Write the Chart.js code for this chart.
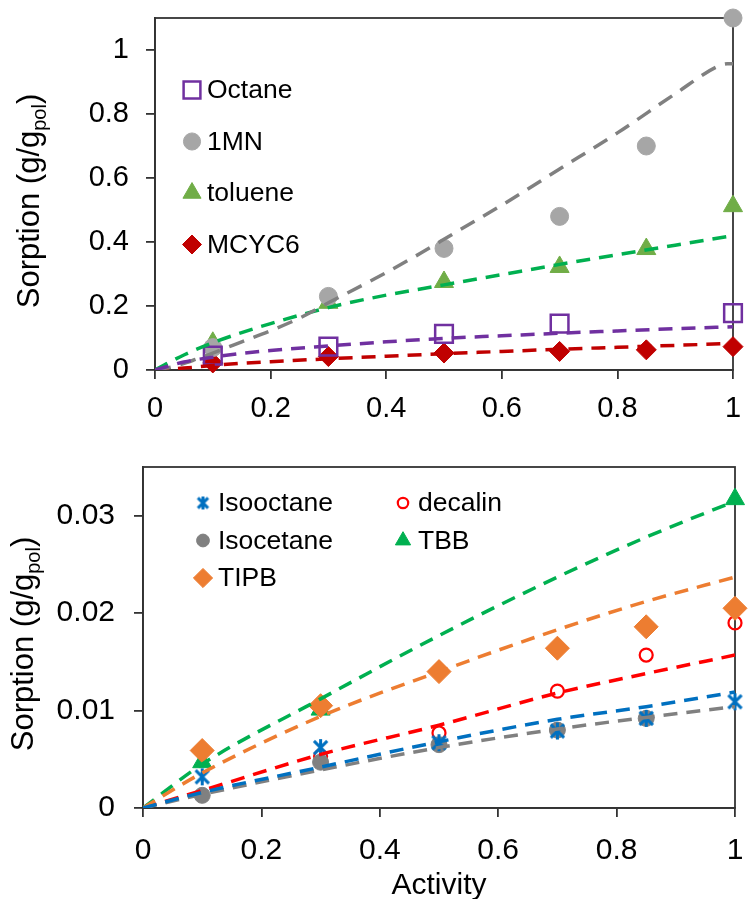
<!DOCTYPE html>
<html>
<head>
<meta charset="utf-8">
<script src="https://cdn.jsdelivr.net/npm/chart.js@4.4.1/dist/chart.umd.min.js"></script>
<style>
  html, body { margin: 0; padding: 0; background: #fff; }
  #wrap { position: relative; width: 748px; height: 899px; overflow: hidden; }
  canvas { position: absolute; left: 0; }
  #topChart { top: 0; }
  #bottomChart { top: 430px; }
</style>
</head>
<body>
<div id="wrap">
  <canvas id="topChart" width="748" height="430"></canvas>
  <canvas id="bottomChart" width="748" height="469"></canvas>
</div>
<script>
// ---- measured data (top panel) ----
const activity = [0.1, 0.3, 0.5, 0.7, 0.85, 1.0];
const octane  = [0.045, 0.073, 0.113, 0.145, null, 0.178];
const mn1     = [0.07, 0.23, 0.38, 0.48, 0.70, 1.10];
const toluene = [0.085, 0.21, 0.275, 0.322, 0.378, 0.512];
const mcyc6   = [0.022, 0.042, 0.053, 0.058, 0.063, 0.073];

// model curves (top panel)
const fitActTop  = [0, 0.05, 0.1, 0.15, 0.2, 0.3, 0.4, 0.5, 0.6, 0.7, 0.8, 0.9, 1.0];
const octaneFit  = [0, 0.025, 0.04, 0.052, 0.061, 0.075, 0.088, 0.099, 0.107, 0.115, 0.122, 0.129, 0.135];
const tolueneFit = [0, 0.047, 0.085, 0.117, 0.145, 0.195, 0.234, 0.266, 0.298, 0.33, 0.36, 0.39, 0.42];
const mcyc6Fit   = [0, 0.006, 0.014, 0.021, 0.026, 0.035, 0.043, 0.051, 0.058, 0.065, 0.071, 0.077, 0.083];
const fitAct1MN  = [0, 0.03, 0.07, 0.11, 0.15, 0.2, 0.25, 0.3, 0.38, 0.45, 0.52, 0.6, 0.7, 0.8, 0.9, 0.975, 0.99, 1.0];
const mn1Fit     = [0, 0.01, 0.033, 0.06, 0.088, 0.123, 0.162, 0.21, 0.285, 0.355, 0.43, 0.515, 0.628, 0.741, 0.863, 0.95, 0.957, 0.957];

// ---- measured data (bottom panel) ----
const isooctane = [0.0032, 0.0062, 0.0067, 0.0079, 0.0092, 0.0109];
const isocetane = [0.0013, 0.0047, 0.0065, 0.0080, 0.0092, null];
const tipb      = [0.0059, 0.0105, 0.0140, 0.0164, 0.0186, 0.0205];
const decalin   = [null, 0.0053, 0.0077, 0.0120, 0.0157, 0.0190];
const tbb       = [0.0047, 0.0101, null, null, null, 0.0317];

// model curves (bottom panel)
const fitActBottom = [0, 0.1, 0.3, 0.5, 0.7, 0.85, 1.0];
const isooctaneFit = [0, 0.0016, 0.0042, 0.0068, 0.0091, 0.0104, 0.0119];
const isocetaneFit = [0, 0.0014, 0.0039, 0.0062, 0.0081, 0.0093, 0.0104];
const tipbFit      = [0, 0.0036, 0.0094, 0.0140, 0.0183, 0.0212, 0.0237];
const decalinFit   = [0, 0.0018, 0.0055, 0.0085, 0.0118, 0.0138, 0.0157];
const tbbFit       = [0, 0.0045, 0.0112, 0.0177, 0.0237, 0.0278, 0.0315];

// ---- axis ticks ----
const xTicks       = [0, 0.2, 0.4, 0.6, 0.8, 1];
const xTickLabels  = ['0', '0.2', '0.4', '0.6', '0.8', '1'];
const yTicksTop    = [0, 0.2, 0.4, 0.6, 0.8, 1];
const yLabelsTop   = ['0', '0.2', '0.4', '0.6', '0.8', '1'];
const yTicksBottom = [0, 0.01, 0.02, 0.03];
const yLabelsBottom = ['0', '0.01', '0.02', '0.03'];

const FONT = "'Liberation Sans', Arial, sans-serif";
const AXIS = '#333333';

function pts(xs, ys) {
    return xs.map((x, i) => ({ x: x, y: ys[i] })).filter(p => p.y !== null);
}

// Excel-like asterisk marker
function makeAsterisk(color, size, lw) {
    const c = document.createElement('canvas');
    c.width = size;
    c.height = size;
    const g = c.getContext('2d');
    g.strokeStyle = color;
    g.lineWidth = lw;
    const m = size / 2, r = size / 2 - 1, d = r * 0.78;
    g.beginPath();
    g.moveTo(m, m - r); g.lineTo(m, m + r);
    g.moveTo(m - d, m - d); g.lineTo(m + d, m + d);
    g.moveTo(m + d, m - d); g.lineTo(m - d, m + d);
    g.stroke();
    return c;
}

function markerSet(label, xs, ys, style) {
    return Object.assign({
        label: label,
        data: pts(xs, ys),
        showLine: false,
        order: 1,
        clip: false,
        pointBorderWidth: 1
    }, style);
}

function fitSet(xs, ys, color, dash) {
    return {
        label: '',
        data: pts(xs, ys),
        showLine: true,
        order: 0,
        borderColor: color,
        borderWidth: 3.5,
        borderDash: dash || [14, 9],
        pointRadius: 0,
        cubicInterpolationMode: 'monotone',
        fill: false
    };
}

// plot frame (top + right sides)
const framePlugin = {
    id: 'frame',
    beforeDatasetsDraw(chart) {
        const a = chart.chartArea, ctx = chart.ctx;
        ctx.save();
        ctx.strokeStyle = AXIS;
        ctx.lineWidth = 1.8;
        ctx.strokeRect(a.left, a.top, a.right - a.left, a.bottom - a.top);
        ctx.restore();
    }
};

// legend drawn inside the plot area
const markerLegend = {
    id: 'markerLegend',
    afterDraw(chart, args, opts) {
        const ctx = chart.ctx;
        const items = chart.data.datasets.filter(d => d.label);
        ctx.save();
        ctx.font = opts.size + 'px ' + FONT;
        ctx.textBaseline = 'middle';
        items.forEach((d, i) => {
            const col = Math.floor(i / opts.rows), row = i % opts.rows;
            const x = opts.x + col * opts.colGap, y = opts.y + row * opts.rowGap;
            ctx.fillStyle = d.pointBackgroundColor;
            ctx.strokeStyle = d.pointBorderColor;
            ctx.lineWidth = d.pointBorderWidth;
            Chart.helpers.drawPoint(ctx, {
                pointStyle: d.legendPointStyle || d.pointStyle,
                radius: d.pointRadius * opts.markerScale,
                rotation: 0,
                borderWidth: d.pointBorderWidth
            }, x, y);
            ctx.fillStyle = '#000';
            ctx.fillText(d.label, x + opts.textGap, y + 1);
        });
        ctx.restore();
    }
};

// rotated y title with subscript
const yTitlePlugin = {
    id: 'yTitle',
    afterDraw(chart, args, opts) {
        const ctx = chart.ctx;
        const big = opts.size + 'px ' + FONT;
        const small = Math.round(opts.size * 0.66) + 'px ' + FONT;
        ctx.save();
        ctx.translate(opts.x, opts.y);
        ctx.rotate(-Math.PI / 2);
        ctx.fillStyle = '#000';
        ctx.textBaseline = 'alphabetic';
        ctx.font = big;
        const w1 = ctx.measureText(opts.text).width;
        const w3 = ctx.measureText(opts.tail).width;
        ctx.font = small;
        const w2 = ctx.measureText(opts.sub).width;
        let x = -(w1 + w2 + w3) / 2;
        ctx.font = big;
        ctx.fillText(opts.text, x, 0);
        x += w1;
        ctx.font = small;
        ctx.fillText(opts.sub, x, opts.size * 0.22);
        x += w2;
        ctx.font = big;
        ctx.fillText(opts.tail, x, 0);
        ctx.restore();
    }
};

function axes(cfg) {
    return {
        x: {
            type: 'linear',
            min: 0,
            max: 1,
            afterBuildTicks: s => { s.ticks = xTicks.map(v => ({ value: v })); },
            afterFit: s => { s.height = cfg.xHeight; s.paddingLeft = 0; s.paddingRight = 0; },
            grid: { drawOnChartArea: false, drawTicks: true, tickLength: 9, color: AXIS, lineWidth: 1.8 },
            border: { display: true, color: AXIS, width: 1.8 },
            ticks: {
                font: { family: FONT, size: cfg.fontSize },
                color: '#000',
                padding: cfg.xPad,
                maxRotation: 0,
                autoSkip: false,
                callback: (v, i) => xTickLabels[i]
            },
            title: cfg.xTitle ? {
                display: true,
                text: cfg.xTitle,
                color: '#000',
                font: { family: FONT, size: cfg.fontSize, lineHeight: 0.9 },
                padding: { top: 0, bottom: 0 }
            } : { display: false }
        },
        y: {
            type: 'linear',
            min: 0,
            max: cfg.yMax,
            afterBuildTicks: s => { s.ticks = cfg.yTicks.map(v => ({ value: v })); },
            afterFit: s => { s.width = cfg.yWidth; s.paddingTop = 0; s.paddingBottom = 0; },
            grid: { drawOnChartArea: false, drawTicks: true, tickLength: 9, color: AXIS, lineWidth: 1.8 },
            border: { display: true, color: AXIS, width: 1.8 },
            ticks: {
                font: { family: FONT, size: cfg.fontSize },
                color: '#000',
                padding: cfg.yPad,
                callback: (v, i) => cfg.yLabels[i]
            }
        }
    };
}

const baseOptions = {
    responsive: false,
    animation: false,
    events: [],
    plugins: { legend: { display: false }, tooltip: { enabled: false } }
};

// ---------- top chart ----------
new Chart(document.getElementById('topChart'), {
    type: 'scatter',
    data: {
        datasets: [
            markerSet('Octane', activity, octane, {
                pointStyle: 'rect', pointRadius: 12.5,
                pointBackgroundColor: 'rgba(0,0,0,0)', pointBorderColor: '#7030A0', pointBorderWidth: 2.5
            }),
            markerSet('1MN', activity, mn1, {
                pointStyle: 'circle', pointRadius: 9,
                pointBackgroundColor: '#A6A6A6', pointBorderColor: '#A6A6A6'
            }),
            markerSet('toluene', activity, toluene, {
                pointStyle: 'triangle', pointRadius: 11,
                pointBackgroundColor: '#70AD47', pointBorderColor: '#70AD47'
            }),
            markerSet('MCYC6', activity, mcyc6, {
                pointStyle: 'rectRot', pointRadius: 10,
                pointBackgroundColor: '#C00000', pointBorderColor: '#C00000'
            }),
            fitSet(fitActTop, octaneFit, '#7030A0'),
            fitSet(fitAct1MN, mn1Fit, '#808080', [16, 10]),
            fitSet(fitActTop, tolueneFit, '#00B050'),
            fitSet(fitActTop, mcyc6Fit, '#C00000')
        ]
    },
    options: Object.assign({}, baseOptions, {
        layout: { padding: { top: 18, right: 8, left: 0, bottom: 0 } },
        scales: axes({
            xHeight: 60, yWidth: 155, yMax: 1.1, yTicks: yTicksTop, yLabels: yLabelsTop,
            fontSize: 29, xPad: 13, yPad: 17
        }),
        plugins: Object.assign({}, baseOptions.plugins, {
            markerLegend: { x: 192, y: 90, rows: 4, rowGap: 51.5, colGap: 0, textGap: 15, size: 26.5, markerScale: 0.95 },
            yTitle: { x: 39, y: 201, size: 31, text: 'Sorption (g/g', sub: 'pol', tail: ')' }
        })
    }),
    plugins: [framePlugin, markerLegend, yTitlePlugin]
});

// ---------- bottom chart ----------
const asterisk = makeAsterisk('#0070C0', 19, 3);
const asteriskSmall = makeAsterisk('#0070C0', 15, 3);

new Chart(document.getElementById('bottomChart'), {
    type: 'scatter',
    data: {
        datasets: [
            markerSet('Isooctane', activity, isooctane, {
                pointStyle: asterisk, legendPointStyle: asteriskSmall, pointRadius: 9,
                pointBackgroundColor: '#0070C0', pointBorderColor: '#0070C0'
            }),
            markerSet('Isocetane', activity, isocetane, {
                pointStyle: 'circle', pointRadius: 8,
                pointBackgroundColor: '#808080', pointBorderColor: '#808080'
            }),
            markerSet('TIPB', activity, tipb, {
                pointStyle: 'rectRot', pointRadius: 12,
                pointBackgroundColor: '#ED7D31', pointBorderColor: '#ED7D31'
            }),
            markerSet('decalin', activity, decalin, {
                pointStyle: 'circle', pointRadius: 6.5,
                pointBackgroundColor: 'rgba(0,0,0,0)', pointBorderColor: '#FF0000', pointBorderWidth: 2.2
            }),
            markerSet('TBB', activity, tbb, {
                pointStyle: 'triangle', pointRadius: 11,
                pointBackgroundColor: '#00B050', pointBorderColor: '#00B050'
            }),
            fitSet(fitActBottom, isooctaneFit, '#0070C0'),
            fitSet(fitActBottom, isocetaneFit, '#808080'),
            fitSet(fitActBottom, tipbFit, '#ED7D31'),
            fitSet(fitActBottom, decalinFit, '#FF0000'),
            fitSet(fitActBottom, tbbFit, '#00B050')
        ]
    },
    options: Object.assign({}, baseOptions, {
        layout: { padding: { top: 37, right: 6, left: 0, bottom: 0 } },
        scales: axes({
            xHeight: 91, yWidth: 143, yMax: 0.035, yTicks: yTicksBottom, yLabels: yLabelsBottom,
            fontSize: 30, xPad: 16, yPad: 19, xTitle: 'Activity'
        }),
        plugins: Object.assign({}, baseOptions.plugins, {
            markerLegend: { x: 203, y: 503 - 430, rows: 3, rowGap: 37.5, colGap: 200, textGap: 15, size: 26.5, markerScale: 0.8 },
            yTitle: { x: 33, y: 214, size: 31, text: 'Sorption (g/g', sub: 'pol', tail: ')' }
        })
    }),
    plugins: [framePlugin, markerLegend, yTitlePlugin]
});
</script>
</body>
</html>
